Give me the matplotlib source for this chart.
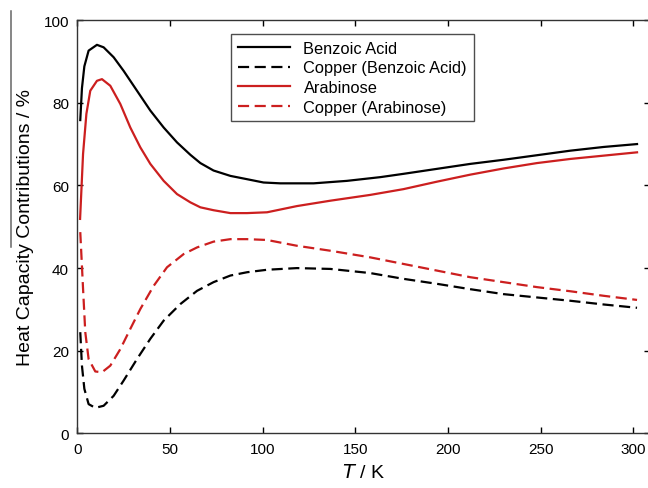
import matplotlib
matplotlib.use("Agg")
import matplotlib.pyplot as plt
from matplotlib.lines import Line2D

plt.rcParams['font.family'] = ['Liberation Sans', 'DejaVu Sans']

# Benzoic Acid (solid black)
ba_x = [1.6, 2.5, 3.8, 6.1, 10.6, 14.2, 19.6, 25, 32.2, 39.4, 46.6, 53.8, 61, 66.4, 73.5, 82.6, 91.6,
        100.5, 109.5, 127.5, 145.5, 163.5, 176, 194, 212, 230, 248, 266, 284, 302]
ba_y = [75.8, 83.5, 88.8, 92.6, 94.0, 93.4, 91.0, 87.7, 82.9, 78.1, 74.0, 70.4, 67.4, 65.4, 63.6, 62.3, 61.5,
        60.7, 60.5, 60.5, 61.1, 62.0, 62.8, 64.0, 65.2, 66.2, 67.3, 68.4, 69.3, 70.0]

# Copper (Benzoic Acid) (dashed black)
cba_x = [1.6, 2.5, 3.8, 6.1, 9.7, 14.2, 19.6, 25, 32.2, 39.4, 46.6, 55.6, 64.6, 73.5, 82.6, 91.6,
         102.4, 118.5, 136.5, 158, 176, 194, 212, 230, 248, 266, 284, 302]
cba_y = [24.5, 16.4, 10.8, 7.1, 6.2, 6.7, 9.1, 12.8, 18.0, 22.9, 27.3, 31.3, 34.5, 36.6, 38.2, 39.0,
         39.6, 40.0, 39.8, 38.8, 37.4, 36.2, 34.9, 33.7, 32.9, 32.1, 31.2, 30.4]

# Arabinose (solid red)
ar_x = [1.5, 3.1, 4.9, 7.0, 10.6, 13.3, 17.8, 23.2, 28.6, 34, 39.4, 46.6, 53.8, 61, 66.4, 73.5, 82.6, 91.6,
        102.4, 118.5, 136.5, 158, 176, 194, 212, 230, 248, 266, 284, 302]
ar_y = [51.9, 67.6, 77.3, 82.9, 85.3, 85.7, 84.1, 79.7, 74.0, 69.2, 65.2, 61.1, 57.9, 55.9, 54.7, 54.0, 53.3, 53.3,
        53.5, 55.0, 56.3, 57.7, 59.1, 60.9, 62.6, 64.1, 65.4, 66.4, 67.2, 68.0]

# Copper (Arabinose) (dashed red)
car_x = [1.6, 3.1, 4.3, 6.1, 9.7, 13.3, 17.8, 23.2, 28.6, 34, 41.2, 48.4, 57.4, 64.6, 73.5, 82.6, 91.6,
         102.4, 118.5, 136.5, 158, 176, 194, 212, 230, 248, 266, 284, 302]
car_y = [48.7, 35.0, 24.5, 18.0, 15.0, 14.8, 16.4, 20.4, 25.3, 30.1, 35.7, 40.2, 43.4, 45.0, 46.4, 47.0, 47.0,
         46.8, 45.4, 44.2, 42.6, 41.0, 39.4, 37.8, 36.6, 35.4, 34.4, 33.3, 32.3]

labels = ["Benzoic Acid", "Copper (Benzoic Acid)", "Arabinose", "Copper (Arabinose)"]
xticks = [0, 50, 100, 150, 200, 250, 300]
yticks = [0, 20, 40, 60, 80, 100]

red = '#cc1f1f'
fig = plt.figure(figsize=(6.48, 4.89), dpi=100)
ax = fig.add_axes([0.1193, 0.1115, 0.8838, 0.8455])

lw = 1.6
kw = dict(lw=lw, solid_joinstyle='round', dash_joinstyle='round')
ax.plot(ba_x, ba_y, color='black', label=labels[0], **kw)
ax.plot(cba_x, cba_y, color='black', dashes=(5, 2.5), label=labels[1], **kw)
ax.plot(ar_x, ar_y, color=red, label=labels[2], **kw)
ax.plot(car_x, car_y, color=red, dashes=(5, 2.5), label=labels[3], **kw)

ax.set_xlim(0, 309)
ax.set_ylim(0, 100)
ax.set_xticks(xticks)
ax.set_yticks(yticks)
ax.tick_params(direction='in', top=True, right=True, labelsize=11, length=4.5, width=1, pad=6)
for s in ax.spines.values():
    s.set_linewidth(1.0)
    s.set_color('#333333')

ax.set_xlabel(r'$T$ / K', fontsize=14, labelpad=5)
ax.set_ylabel('Heat Capacity Contributions / %', fontsize=14, labelpad=7)

leg = ax.legend(loc='upper left', bbox_to_anchor=(0.269, 0.966), borderaxespad=0, fontsize=11.8,
                frameon=True, fancybox=False, edgecolor='#222222', handlelength=3.2,
                handletextpad=0.8, borderpad=0.4, labelspacing=0.29)
leg.get_frame().set_linewidth(1.0)

fig.add_artist(Line2D([10.5/648, 10.5/648], [1-12/489, 1-248/489], color='#666666', lw=1.1,
                      transform=fig.transFigure))

fig.savefig('out.png', dpi=100)
